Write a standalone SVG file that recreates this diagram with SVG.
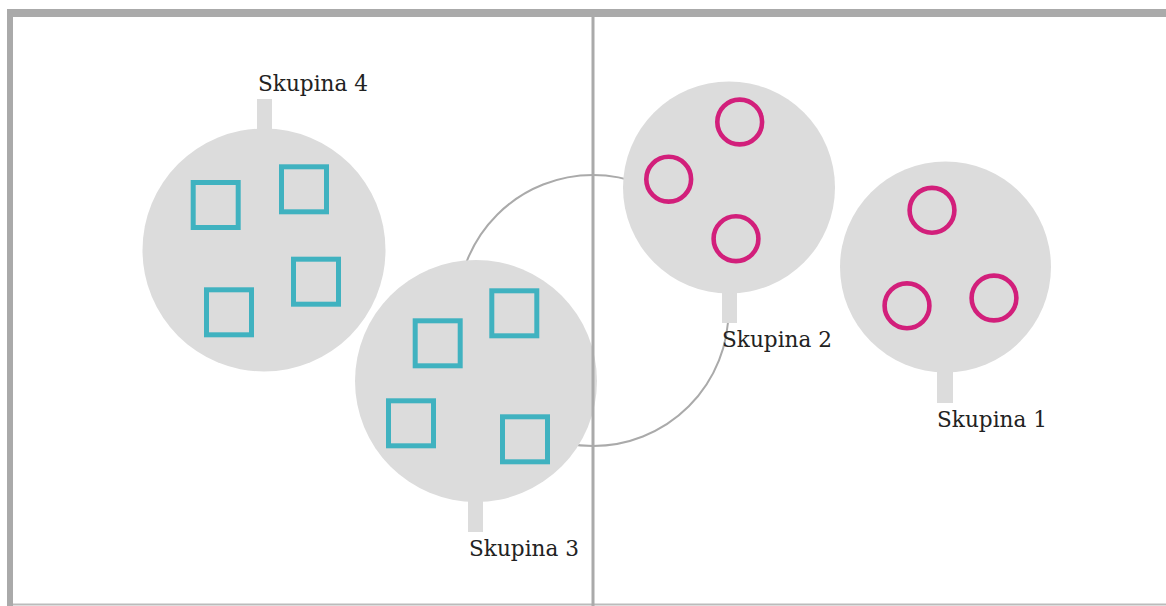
<svg xmlns="http://www.w3.org/2000/svg" width="1166" height="606" viewBox="0 0 1166 606">
  <style>
    .frame { fill: #aaaaaa; }
    .disc { fill: #dcdcdc; }
    .stem { fill: #dcdcdc; }
    .sq { fill: none; stroke: #40b2c0; stroke-width: 5; }
    .ring { fill: none; stroke: #d21f7b; stroke-width: 4.6; }
    .link { fill: none; stroke: #aaaaaa; stroke-width: 2; }
    .label { font-family: "DejaVu Serif", "Liberation Serif", serif; font-size: 23px; fill: #222222; }
  </style>

  <rect width="1166" height="606" fill="#ffffff"/>

  <!-- grouping ring linking groups 2 and 3 -->
  <g id="connectors">
    <circle class="link" cx="593" cy="310.5" r="135.5"/>
  </g>

  <g id="skupina4">
    <rect class="stem" x="257" y="99" width="15" height="32"/>
    <circle class="disc" cx="264" cy="250" r="121.5"/>
    <rect class="sq" x="193.2" y="182.5" width="45" height="45"/>
    <rect class="sq" x="281.5" y="166.8" width="45" height="45"/>
    <rect class="sq" x="293.5" y="259.2" width="45" height="45"/>
    <rect class="sq" x="206.5" y="289.8" width="45" height="45"/>
    <text class="label" x="258" y="91" textLength="110" lengthAdjust="spacingAndGlyphs">Skupina 4</text>
  </g>

  <g id="skupina3">
    <rect class="stem" x="468" y="498" width="15" height="34"/>
    <circle class="disc" cx="476" cy="381" r="121"/>
    <rect class="sq" x="415.2" y="320.8" width="45" height="45"/>
    <rect class="sq" x="491.8" y="290.8" width="45" height="45"/>
    <rect class="sq" x="388.5" y="400.8" width="45" height="45"/>
    <rect class="sq" x="502.5" y="416.8" width="45" height="45"/>
    <text class="label" x="469" y="556" textLength="110" lengthAdjust="spacingAndGlyphs">Skupina 3</text>
  </g>

  <g id="skupina2">
    <rect class="stem" x="722" y="289" width="15" height="34"/>
    <circle class="disc" cx="729" cy="187.5" r="106"/>
    <circle class="ring" cx="739.7" cy="122" r="22.4"/>
    <circle class="ring" cx="668.7" cy="179.2" r="22.4"/>
    <circle class="ring" cx="736" cy="238.7" r="22.4"/>
    <text class="label" x="722" y="347" textLength="110" lengthAdjust="spacingAndGlyphs">Skupina 2</text>
  </g>

  <g id="skupina1">
    <rect class="stem" x="937" y="368" width="16" height="35"/>
    <circle class="disc" cx="945.5" cy="267" r="105.5"/>
    <circle class="ring" cx="932" cy="210.3" r="22.4"/>
    <circle class="ring" cx="907" cy="305.8" r="22.4"/>
    <circle class="ring" cx="994" cy="298" r="22.4"/>
    <text class="label" x="937" y="427" textLength="110" lengthAdjust="spacingAndGlyphs">Skupina 1</text>
  </g>

  <!-- frame and divider -->
  <g id="frame">
    <rect class="frame" x="7" y="9" width="1159" height="8"/>
    <rect class="frame" x="7" y="9" width="6" height="597"/>
    <rect x="13" y="603.5" width="1153" height="2" fill="#bbbbbb"/>
    <rect class="frame" x="591.5" y="17" width="3" height="589"/>
  </g>
</svg>
